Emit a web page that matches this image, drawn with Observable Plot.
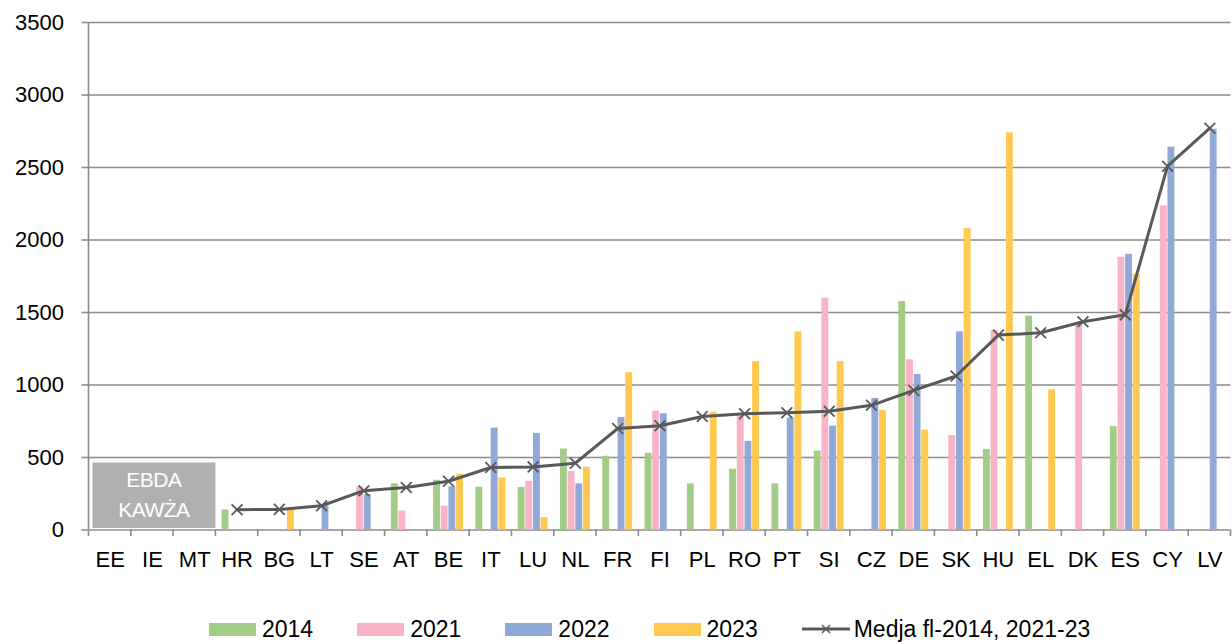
<!DOCTYPE html>
<html>
<head>
<meta charset="utf-8">
<script src="https://cdn.jsdelivr.net/npm/d3@7"></script>
<script src="https://cdn.jsdelivr.net/npm/@observablehq/plot@0.6"></script>
<style>
  html, body { margin: 0; padding: 0; background: #ffffff; }
  body { width: 1232px; height: 642px; overflow: hidden; font-family: "Liberation Sans", Arial, sans-serif; }
  #legend { position: relative; height: 42px; display: flex; align-items: flex-end; padding-left: 209px; gap: 44px; font-size: 23px; color: #000; }
  .item { display: flex; align-items: center; gap: 6px; height: 26px; }
  .sw { width: 47px; height: 13px; }
  .ln { width: 48px; height: 20px; }
</style>
</head>
<body>
<div id="chart"></div>
<div id="legend"></div>
<script>
// ---- data ----
const countries = ["EE","IE","MT","HR","BG","LT","SE","AT","BE","IT","LU","NL","FR","FI","PL","RO","PT","SI","CZ","DE","SK","HU","EL","DK","ES","CY","LV"];
const years = ["2014","2021","2022","2023"];
const v2014 = [null,null,null,138,null,null,null,319,343,295,293,558,509,528,318,419,318,544,null,1576,null,555,1475,null,713,null,null];
const v2021 = [null,null,null,null,null,null,296,131,164,null,336,403,null,820,null,788,null,1599,null,1174,651,1376,null,1417,1881,2236,null];
const v2022 = [null,null,null,null,null,167,245,null,297,703,666,318,776,802,null,611,772,716,908,1073,1367,null,null,null,1901,2640,2764];
const v2023 = [null,null,null,null,138,null,null,null,385,359,85,433,1085,null,813,1161,1366,1161,826,688,2078,2739,966,null,1764,null,null];
const meanVals = [null,null,null,140,142,167,271,293,336,431,435,461,700,719,783,802,809,819,860,963,1062,1344,1360,1436,1484,2509,2771];
const yTicks = [0,500,1000,1500,2000,2500,3000,3500];
const meanLabel = "Medja fl-2014, 2021-23";
const noteLines = ["EBDA", "KAWŻA"];
const colors = ["#a2cc87", "#f8b4c6", "#91a9d6", "#ffc84e"];
const lineColor = "#595959";
const gridColor = "#8c8c8c";

// ---- layout ----
const W = 1232, H = 600;
const ML = 88.5, MR = 1.5, MT = 22, MB = 70.5;
const bw = (W - ML - MR) / countries.length;
const slot = 7.67;
const pad = (bw - 4 * slot) / 2;

const series = [v2014, v2021, v2022, v2023];
const barMarks = series.map((vals, i) => {
  const rows = countries.map((c, j) => ({country: c, value: vals[j]})).filter(d => d.value != null);
  return Plot.barY(rows, {
    x: "country", y: "value", fill: colors[i],
    insetLeft: pad + i * slot + 0.4,
    insetRight: bw - pad - (i + 1) * slot + 0.4
  });
});
const meanRows = countries.map((c, j) => ({country: c, value: meanVals[j]})).filter(d => d.value != null);

const chart = Plot.plot({
  width: W, height: H,
  marginLeft: ML, marginRight: MR, marginTop: MT, marginBottom: MB,
  x: {domain: countries, type: "band", padding: 0, round: false},
  y: {domain: [0, 3500]},
  style: {fontFamily: '"Liberation Sans", Arial, sans-serif', fontSize: "22px", color: "#000", background: "#fff", overflow: "visible"},
  marks: [
    Plot.ruleY(yTicks, {stroke: gridColor, strokeWidth: 1.6}),
    ...barMarks,
    Plot.line(meanRows, {x: "country", y: "value", stroke: lineColor, strokeWidth: 3}),
    Plot.dot(meanRows, {x: "country", y: "value", symbol: "times", r: 5, stroke: lineColor, strokeWidth: 1.8}),
    Plot.axisY({ticks: yTicks, tickSize: 7, tickPadding: 18, stroke: gridColor, strokeWidth: 1.6, fill: "#000", fontSize: 22, label: null, tickFormat: d => String(d)}),
    Plot.axisX({tickSize: 0, tickPadding: 21, fill: "#000", fontSize: 22, label: null})
  ]
});
document.getElementById("chart").appendChild(chart);

// ---- axis line, boundary ticks, note box using the chart's scales ----
const xs = chart.scale("x"), ys = chart.scale("y");
const band = xs.bandwidth;
const r0 = Math.min(...xs.range);
const first = xs.apply(countries[0]);
const off = Math.abs(first - r0 - band / 2) < Math.abs(first - r0) ? band / 2 : 0;
const starts = countries.map(c => xs.apply(c) - off);
const bounds = starts.concat([starts[starts.length - 1] + band]);
const y0 = ys.apply(0), yTop = ys.apply(3500);
const svg = d3.select(chart);
const g = svg.append("g");
g.append("line").attr("x1", starts[0]).attr("x2", starts[0]).attr("y1", yTop).attr("y2", y0)
  .attr("stroke", gridColor).attr("stroke-width", 1.6);
bounds.forEach(b => {
  g.append("line").attr("x1", b).attr("x2", b).attr("y1", y0).attr("y2", y0 + 6.5)
    .attr("stroke", gridColor).attr("stroke-width", 1.6);
});
const bx1 = starts[0] + 4, bx2 = starts[2] + band;
const by1 = ys.apply(462), by2 = y0 - 1.5;
g.append("rect").attr("x", bx1).attr("y", by1).attr("width", bx2 - bx1).attr("height", by2 - by1)
  .attr("fill", "#b0b0b0");
const cx = (bx1 + bx2) / 2;
noteLines.forEach((t, i) => {
  g.append("text").attr("x", cx).attr("y", by1 + 24.5 + i * 29.5)
    .attr("text-anchor", "middle").attr("fill", "#fff")
    .attr("font-size", 21).attr("font-family", '"Liberation Sans", Arial, sans-serif')
    .attr("letter-spacing", "-0.5").text(t);
});

// ---- legend ----
const legend = document.getElementById("legend");
years.forEach((yr, i) => {
  const it = document.createElement("div"); it.className = "item";
  it.innerHTML = `<div class="sw" style="background:${colors[i]}"></div><span>${yr}</span>`;
  legend.appendChild(it);
});
const li = document.createElement("div"); li.className = "item"; li.style.gap = "4px";
li.innerHTML = `<svg class="ln" viewBox="0 0 48 20"><line x1="0" y1="10" x2="48" y2="10" stroke="${lineColor}" stroke-width="3"/><path d="M20,6 L28,14 M28,6 L20,14" stroke="${lineColor}" stroke-width="1.5"/></svg><span>${meanLabel}</span>`;
legend.appendChild(li);
</script>
</body>
</html>
